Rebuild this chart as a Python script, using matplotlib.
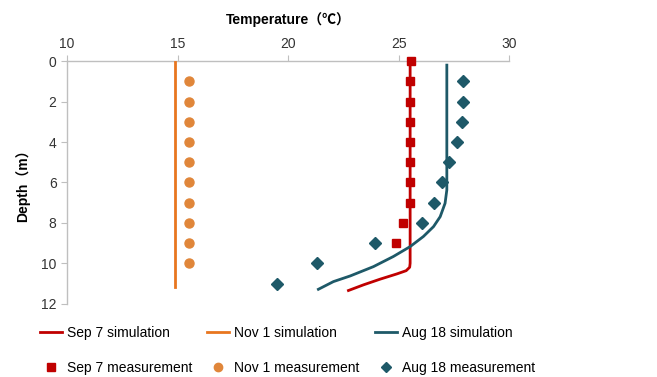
import matplotlib.pyplot as plt
from matplotlib.lines import Line2D

plt.rcParams['font.family'] = ['Liberation Sans', 'Noto Sans CJK SC', 'DejaVu Sans']

# simulated profiles (temperature, depth)
sep_sim_t = [25.52, 25.52, 25.52, 25.5, 25.34, 24.92, 24.16, 23.41, 22.73]
sep_sim_d = [0.0, 5.0, 9.99, 10.19, 10.36, 10.52, 10.78, 11.06, 11.34]

nov_sim_t = [14.9, 14.9]
nov_sim_d = [0.05, 11.15]

aug_sim_t = [27.18, 27.18, 27.18, 27.1, 26.88, 26.58, 26.12, 25.52, 24.76, 23.86,
             22.81, 22.05, 21.37]
aug_sim_d = [0.2, 5.38, 6.37, 7.03, 7.69, 8.18, 8.67, 9.17, 9.66, 10.16,
             10.62, 10.9, 11.28]

# measured profiles
sep_meas_t = [25.55, 25.5, 25.5, 25.5, 25.5, 25.5, 25.5, 25.5, 25.2, 24.9]
sep_meas_d = [0, 1, 2, 3, 4, 5, 6, 7, 8, 9]

nov_meas_t = [15.5] * 10
nov_meas_d = [1, 2, 3, 4, 5, 6, 7, 8, 9, 10]

aug_meas_t = [27.9, 27.93, 27.86, 27.66, 27.27, 26.95, 26.58, 26.05, 23.94, 21.33, 19.5]
aug_meas_d = [1, 2, 3, 4, 5, 6, 7, 8, 9, 10, 11]

red = '#C00000'
orange = '#E8761F'
orange_pt = '#E0863A'
teal = '#1E5968'

fig = plt.figure(figsize=(6.57, 3.77), dpi=100)
ax = fig.add_axes([0.102, 0.194, 0.673, 0.644])

ax.plot(sep_sim_t, sep_sim_d, color=red, lw=2, zorder=3, solid_joinstyle='round')
ax.plot(nov_sim_t, nov_sim_d, color=orange, lw=2, zorder=3)
ax.plot(aug_sim_t, aug_sim_d, color=teal, lw=2, zorder=3, solid_joinstyle='round')

ax.plot(sep_meas_t, sep_meas_d, 's', color=red, ms=6, zorder=4, clip_on=False)
ax.plot(nov_meas_t, nov_meas_d, 'o', color=orange_pt, ms=6.5, zorder=4)
ax.plot(aug_meas_t, aug_meas_d, 'D', color=teal, ms=6, zorder=4)

ax.set_xlim(10, 30)
ax.set_ylim(12, 0)
ax.set_xticks([10, 15, 20, 25, 30])
ax.set_yticks([0, 2, 4, 6, 8, 10, 12])
ax.xaxis.tick_top()
ax.xaxis.set_label_position('top')
ax.tick_params(colors='#BFBFBF', labelcolor='#333333', labelsize=10, length=4)
for side in ['right', 'bottom']:
    ax.spines[side].set_visible(False)
for side in ['top', 'left']:
    ax.spines[side].set_color('#BFBFBF')
    ax.spines[side].set_linewidth(1)

ax.set_xlabel('Temperature（℃）', fontsize=10, fontweight='bold', labelpad=9)
ax.set_ylabel('Depth（m）', fontsize=10, fontweight='bold', labelpad=8)

# one legend column per date: simulation line on top, measurement marker below
columns = [
    (red, 's', 6, 'Sep 7', 0.061),
    (orange, 'o', 6, 'Nov 1', 0.315),
    (teal, 'D', 5, 'Aug 18', 0.571),
]
for color, marker, ms, name, x0 in columns:
    mcolor = orange_pt if marker == 'o' else color
    handles = [Line2D([], [], color=color, lw=2),
               Line2D([], [], ls='none', marker=marker, color=mcolor, ms=ms)]
    labels = [name + ' simulation', name + ' measurement']
    fig.legend(handles, labels, loc='center left', bbox_to_anchor=(x0, 0.07),
               frameon=False, fontsize=10, handlelength=1.6, handletextpad=0.35,
               labelspacing=1.5, borderpad=0, borderaxespad=0)

fig.savefig('out.png', dpi=100)
